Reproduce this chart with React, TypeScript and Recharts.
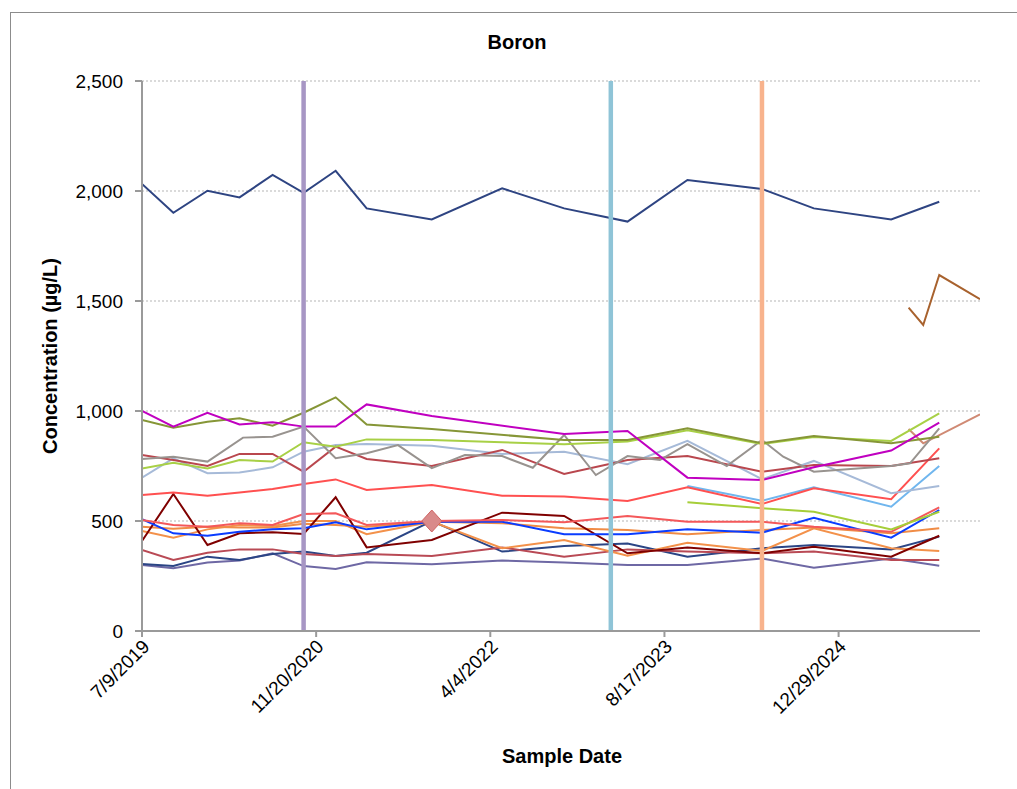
import React from 'react';
import {
  ComposedChart,
  Line,
  XAxis,
  YAxis,
  CartesianGrid,
  ReferenceLine,
  ReferenceDot,
} from 'recharts';

const DAY = 86400000;
const toT = (s: string) => {
  const [m, d, y] = s.split('/').map(Number);
  return Date.UTC(y, m - 1, d);
};
const fmtDate = (t: number) => {
  const d = new Date(t);
  return `${d.getUTCMonth() + 1}/${d.getUTCDate()}/${d.getUTCFullYear()}`;
};

// sampling dates shared by most wells
const mainDates = [
  '7/9/2019', '10/7/2019', '1/13/2020', '4/14/2020', '7/18/2020', '10/15/2020',
  '1/15/2021', '4/14/2021', '10/18/2021', '5/8/2022', '11/2/2022', '5/3/2023',
  '10/22/2023', '5/23/2024', '10/19/2024', '5/29/2025', '10/14/2025',
];

const navyTop = [2032, 1901, 2001, 1971, 2073, 1992, 2092, 1921, 1871, 2012, 1921, 1861, 2050, 2009, 1921, 1871, 1951];
const magenta = [1001, 929, 992, 939, 949, 929, 929, 1030, 977, null, 895, 909, 697, 686, 744, 820, 947];
const olive = [959, 924, 951, 967, 933, 992, 1062, 939, 918, null, 868, 868, 921, 853, 886, 853, 883];
const lime = [739, 765, 739, 777, 770, 858, 838, 871, 868, null, 849, 861, 912, 850, 882, 864, 989];
const rose = [800, 777, 750, 805, 805, 724, 838, 782, 750, 823, 714, 777, 795, 724, 755, 750, 785];
const steel = [697, 785, 717, 720, 744, 815, 845, 850, 842, 805, 815, 758, 864, 690, 773, 626, 659];
const red = [618, 630, 615, 629, 645, 668, 689, 641, 664, 615, 611, 591, 653, 577, 649, 599, 830];
const lightBlue = [null, null, null, null, null, null, null, null, null, null, null, null, 659, 592, 653, 565, 750];
const lime2 = [null, null, null, null, null, null, null, null, null, null, null, null, 585, 558, 542, 462, 542];
const darkRed = [409, 623, 391, 444, 449, 441, 608, 380, 414, 538, 523, 353, 380, 353, 383, 338, 433];
const blue = [508, 444, 433, 451, 462, 467, 494, 462, 497, 497, 440, 440, 462, 447, 515, 424, 550];
const salmonRed = [505, 482, 474, 490, 482, 532, 535, 482, 500, 505, 494, 523, 497, 497, 474, 451, 562];
const orangeA = [455, 424, 462, 482, 477, 500, 500, 440, 497, 376, 414, 342, 401, 364, 467, 376, 364];
const orangeB = [474, 465, 474, 471, 471, 487, 482, 474, 497, 490, 467, 459, 440, 459, 470, 444, 467];
const roseLow = [368, 323, 356, 371, 371, 350, 341, 350, 341, 380, 338, 371, 361, 353, 361, 323, 323];
const navyLow = [305, 296, 338, 323, 350, 361, 341, 356, 500, 361, 386, 398, 338, 376, 391, 371, 429];
const slate = [300, 285, 311, 320, 353, 295, 282, 312, 303, 320, 311, 300, 300, 330, 288, 330, 297];

// well sampled quarterly
const grayDates = [
  '7/9/2019', '10/7/2019', '1/13/2020', '4/24/2020', '7/18/2020', '10/15/2020',
  '1/15/2021', '4/14/2021', '7/13/2021', '10/18/2021', '1/21/2022', '5/8/2022',
  '8/4/2022', '11/2/2022', '2/1/2023', '5/3/2023', '8/4/2023', '10/22/2023',
  '2/12/2024', '5/23/2024', '7/23/2024', '10/19/2024', '5/29/2025', '7/22/2025', '10/14/2025',
];
const gray = [782, 792, 770, 879, 883, 929, 785, 808, 845, 740, 800, 795, 742, 891, 709, 795, 777, 849, 750, 868, 792, 724, 750, 762, 921];

// new wells
const brownDates = ['7/18/2025', '8/29/2025', '10/14/2025', '2/8/2026'];
const brown = [1470, 1391, 1618, 1508];
const tanDates = ['7/18/2025', '8/29/2025', '2/8/2026'];
const tan = [918, 853, 985];

const yTicks = [0, 500, 1000, 1500, 2000, 2500];
const T0 = toT('7/9/2019');
const T_END = toT('2/8/2026');
const xTicks = [0, 1, 2, 3, 4].map((k) => T0 + k * 500 * DAY);

const events = [
  { date: '10/15/2020', color: '#A796C4' },
  { date: '3/16/2023', color: '#8FC4D7' },
  { date: '5/23/2024', color: '#F8B38D' },
];

const build = (dates: string[], vals: (number | null)[]) =>
  dates
    .map((d, i) => ({ t: toT(d), v: vals[i] }))
    .filter((p) => p.v !== null && p.v !== undefined);

const series = [
  { name: 'navyTop', color: '#2E4482', data: build(mainDates, navyTop) },
  { name: 'brown', color: '#A8622E', data: build(brownDates, brown) },
  { name: 'tan', color: '#D08A74', data: build(tanDates, tan) },
  { name: 'slate', color: '#6E68A4', data: build(mainDates, slate) },
  { name: 'navyLow', color: '#2B4585', data: build(mainDates, navyLow) },
  { name: 'roseLow', color: '#B94A55', data: build(mainDates, roseLow) },
  { name: 'orangeA', color: '#F3914A', data: build(mainDates, orangeA) },
  { name: 'orangeB', color: '#F08C46', data: build(mainDates, orangeB) },
  { name: 'darkRed', color: '#7F0000', data: build(mainDates, darkRed) },
  { name: 'blue', color: '#0A3CFF', data: build(mainDates, blue) },
  { name: 'salmonRed', color: '#F4585A', data: build(mainDates, salmonRed) },
  { name: 'lime2', color: '#A6CE39', data: build(mainDates, lime2) },
  { name: 'lightBlue', color: '#70B6EE', data: build(mainDates, lightBlue) },
  { name: 'red', color: '#FF5050', data: build(mainDates, red) },
  { name: 'steel', color: '#A6BAD8', data: build(mainDates, steel) },
  { name: 'rose', color: '#B9474E', data: build(mainDates, rose) },
  { name: 'gray', color: '#98938F', data: build(grayDates, gray) },
  { name: 'lime', color: '#A8D046', data: build(mainDates, lime) },
  { name: 'olive', color: '#869637', data: build(mainDates, olive) },
  { name: 'magenta', color: '#C000C0', data: build(mainDates, magenta) },
];

const FONT = "'Liberation Sans', Arial, sans-serif";

const XTick = ({ x, y, payload }: any) => (
  <text
    x={x + 4}
    y={y + 4}
    transform={`rotate(-45 ${x + 4} ${y + 4})`}
    textAnchor="end"
    dy="0.35em"
    fontSize={19}
    fontFamily={FONT}
    fill="#000"
  >
    {fmtDate(payload.value)}
  </text>
);

const Diamond = ({ cx, cy }: any) => (
  <polygon
    points={`${cx},${cy - 11} ${cx + 10},${cy} ${cx},${cy + 11} ${cx - 10},${cy}`}
    fill="#D98A8A"
    stroke="#CF6464"
    strokeWidth={1}
  />
);

export default function App() {
  return (
    <div style={{ position: 'fixed', left: 0, top: 0, width: 1017, height: 789, fontFamily: FONT, background: '#fff' }}>
      <div
        style={{
          position: 'absolute',
          left: 10,
          top: 12,
          right: -4,
          bottom: -4,
          borderLeft: '1px solid #8c8c8c',
          borderTop: '1px solid #8c8c8c',
        }}
      />
      <ComposedChart
        width={1017}
        height={789}
        margin={{ top: 81, right: 37, left: 0, bottom: 58 }}
        style={{ position: 'absolute', left: 0, top: 0 }}
      >
        <CartesianGrid vertical={false} strokeDasharray="2 2" stroke="#b5b5b5" />
        <XAxis
          dataKey="t"
          type="number"
          domain={[T0, T_END]}
          ticks={xTicks}
          allowDataOverflow
          height={100}
          tick={<XTick />}
          tickSize={6}
          axisLine={{ stroke: '#9a9a9a', strokeWidth: 2 }}
          tickLine={{ stroke: '#9a9a9a', strokeWidth: 2 }}
          interval={0}
        />
        <YAxis
          type="number"
          domain={[0, 2500]}
          ticks={yTicks}
          width={142}
          tickSize={7}
          tickMargin={12}
          tickFormatter={(v: number) => v.toLocaleString('en-US')}
          tick={{ fontSize: 19, fill: '#000', fontFamily: FONT }}
          axisLine={{ stroke: '#9a9a9a', strokeWidth: 2 }}
          tickLine={{ stroke: '#9a9a9a', strokeWidth: 2 }}
        />
        {series.map((s) => (
          <Line
            key={s.name}
            data={s.data}
            dataKey="v"
            type="linear"
            stroke={s.color}
            strokeWidth={2}
            dot={false}
            activeDot={false}
            isAnimationActive={false}
          />
        ))}
        {events.map((e) => (
          <ReferenceLine key={e.date} x={toT(e.date)} stroke={e.color} strokeWidth={4.5} />
        ))}
        <ReferenceDot x={toT('10/18/2021')} y={500} r={10} shape={<Diamond />} />
      </ComposedChart>
      <div style={{ position: 'absolute', left: 417, width: 200, top: 31, textAlign: 'center', fontWeight: 'bold', fontSize: 20 }}>
        Boron
      </div>
      <div style={{ position: 'absolute', left: 462, width: 200, top: 745, textAlign: 'center', fontWeight: 'bold', fontSize: 20 }}>
        Sample Date
      </div>
      <div
        style={{
          position: 'absolute',
          left: 50 - 150,
          top: 356 - 12,
          width: 300,
          height: 24,
          lineHeight: '24px',
          textAlign: 'center',
          fontWeight: 'bold',
          fontSize: 20,
          transform: 'rotate(-90deg)',
        }}
      >
        Concentration (µg/L)
      </div>
    </div>
  );
}
